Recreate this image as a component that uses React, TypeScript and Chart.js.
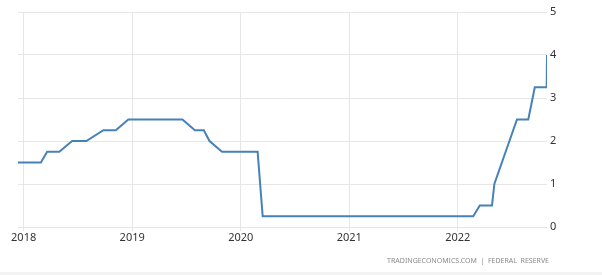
import React, { useEffect, useRef } from "react";
import { Chart, registerables } from "chart.js";

Chart.register(...registerables);

// Dates of each observation (decision / plotted point) and the rate (%)
const dates = [
  "2017-12-13", "2018-02-28", "2018-03-21", "2018-05-01", "2018-06-13",
  "2018-07-31", "2018-09-26", "2018-11-07", "2018-12-19", "2019-06-19",
  "2019-07-31", "2019-08-30", "2019-09-18", "2019-10-30", "2020-02-27",
  "2020-03-15", "2022-02-22", "2022-03-16", "2022-04-26", "2022-05-04",
  "2022-07-19", "2022-08-26", "2022-09-17", "2022-10-27",
  "2022-10-28",
];
const rates = [
  1.5, 1.5, 1.75, 1.75, 2.0,
  2.0, 2.25, 2.25, 2.5, 2.5,
  2.25, 2.25, 2.0, 1.75, 1.75,
  0.25, 0.25, 0.5, 0.5, 1.0,
  2.5, 2.5, 3.25, 3.25,
  4.0,
];
const yearTicks = [2018, 2019, 2020, 2021, 2022];
const rateTicks = [0, 1, 2, 3, 4, 5];
const sourceText = "TRADINGECONOMICS.COM  |  FEDERAL  RESERVE";

function toYear(d: string): number {
  const [y, m, day] = d.split("-").map(Number);
  const start = Date.UTC(y, 0, 1);
  const end = Date.UTC(y + 1, 0, 1);
  const t = Date.UTC(y, m - 1, day);
  return y + (t - start) / (end - start);
}

export default function App() {
  const ref = useRef<HTMLCanvasElement | null>(null);

  useEffect(() => {
    if (!ref.current) return;
    const pts = dates.map((d, i) => ({ x: toYear(d), y: rates[i] }));
    const chart = new Chart(ref.current, {
      type: "line",
      data: {
        datasets: [
          {
            data: pts,
            borderColor: "rgb(70,130,185)",
            borderWidth: 2,
            pointRadius: 0,
            tension: 0,
            fill: false,
          },
        ],
      },
      options: {
        animation: false,
        responsive: false,
        maintainAspectRatio: false,
        layout: { padding: { left: 18, top: 12, right: 0, bottom: 0 } },
        plugins: { legend: { display: false }, tooltip: { enabled: false } },
        scales: {
          x: {
            type: "linear",
            min: pts[0].x,
            max: pts[pts.length - 1].x,
            afterBuildTicks: (s: any) => {
              s.ticks = yearTicks.map((v) => ({ value: v }));
            },
            afterFit: (s: any) => {
              s.height = 48;
            },
            grid: {
              color: "#e6e6e6",
              lineWidth: 1,
              drawTicks: true,
              tickLength: 4,
            },
            border: { display: false },
            ticks: {
              color: "#333",
              font: { family: "Noto Sans", size: 11 },
              padding: 0,
              maxRotation: 0,
              autoSkip: false,
              callback: (v: any) => String(v),
            },
          },
          y: {
            position: "right",
            min: 0,
            max: 5,
            afterBuildTicks: (s: any) => {
              s.ticks = rateTicks.map((v) => ({ value: v }));
            },
            afterFit: (s: any) => {
              s.width = 55;
            },
            grid: { color: "#e6e6e6", lineWidth: 1, drawTicks: false },
            border: { display: false },
            ticks: {
              color: "#333",
              font: { family: "Noto Sans", size: 11 },
              padding: 3,
              callback: (v: any) => String(v),
            },
          },
        },
      },
    });
    return () => chart.destroy();
  }, []);

  return (
    <div
      style={{
        position: "fixed",
        left: 0,
        top: 0,
        width: 602,
        height: 275,
        background: "#fff",
        overflow: "hidden",
      }}
    >
      <canvas ref={ref} width={602} height={275} style={{ display: "block" }} />
      <div
        style={{
          position: "absolute",
          right: 53,
          top: 256,
          fontFamily: "Noto Sans",
          fontSize: 7,
          color: "#8a8a8a",
          whiteSpace: "pre",
          lineHeight: "9px",
        }}
      >
        {sourceText}
      </div>
      <div
        style={{
          position: "absolute",
          left: 0,
          top: 272,
          width: 602,
          height: 3,
          background: "#f3f3f3",
        }}
      />
    </div>
  );
}
